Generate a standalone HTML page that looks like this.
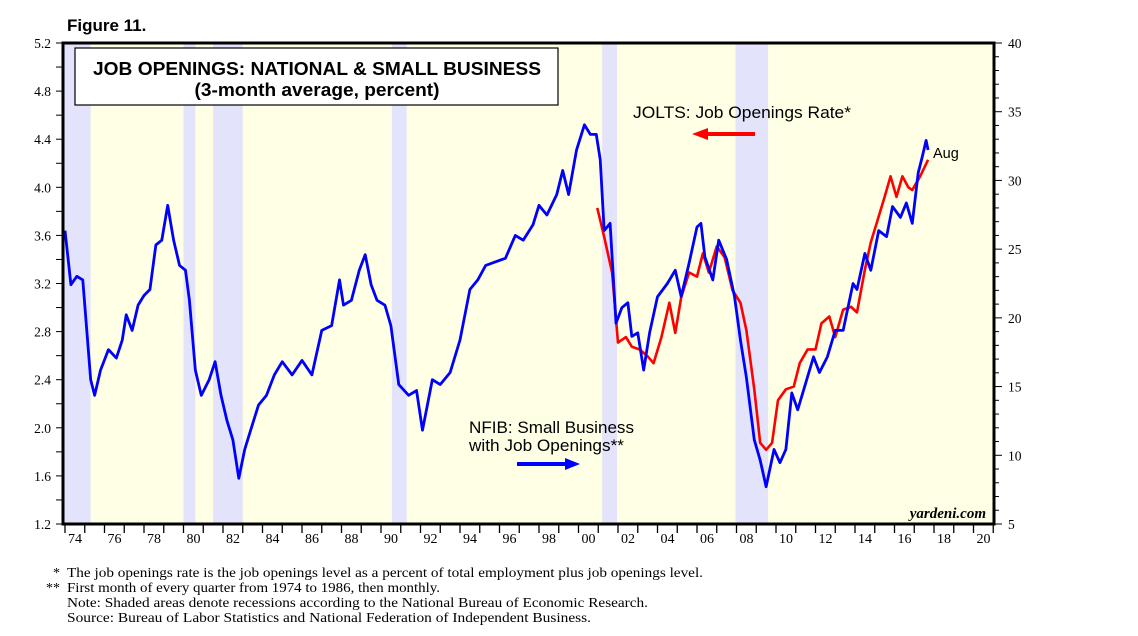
<!DOCTYPE html>
<html><head><meta charset="utf-8"><style>
body{margin:0;background:#fff;}
svg{display:block;font-family:"Liberation Serif",serif;}
</style></head><body>
<svg id="chart" width="1138" height="636" viewBox="0 0 1138 636">
<text x="67" y="31" font-family="Liberation Sans" font-weight="bold" font-size="17">Figure 11.</text>
<rect x="63" y="43" width="931" height="481" fill="#ffffe6"/>
<g id="rec"></g>
<g id="grid"></g>
<g id="series"></g>
<rect x="63" y="43" width="931" height="481" fill="none" stroke="#000" stroke-width="3"/>
<rect x="75" y="48" width="483" height="57" fill="#fff" stroke="#000" stroke-width="1.2"/>
<text x="317" y="75" text-anchor="middle" font-family="Liberation Sans" font-weight="bold" font-size="18.5" textLength="448" lengthAdjust="spacingAndGlyphs">JOB OPENINGS: NATIONAL &amp; SMALL BUSINESS</text>
<text x="317" y="96" text-anchor="middle" font-family="Liberation Sans" font-weight="bold" font-size="18" textLength="245" lengthAdjust="spacingAndGlyphs">(3-month average, percent)</text>
<text x="633" y="118" font-family="Liberation Sans" font-size="17" textLength="218" lengthAdjust="spacingAndGlyphs">JOLTS: Job Openings Rate*</text>
<line x1="755" y1="134" x2="705" y2="134" stroke="#f00" stroke-width="4"/>
<polygon points="692,134 708,128 708,140" fill="#f00"/>
<text x="469" y="433" font-family="Liberation Sans" font-size="16.5" textLength="165" lengthAdjust="spacingAndGlyphs">NFIB: Small Business</text>
<text x="469" y="451" font-family="Liberation Sans" font-size="16.5" textLength="155" lengthAdjust="spacingAndGlyphs">with Job Openings**</text>
<line x1="517" y1="464" x2="568" y2="464" stroke="#00f" stroke-width="4"/>
<polygon points="580,464 565,458 565,470" fill="#00f"/>
<text x="933" y="158" font-family="Liberation Sans" font-size="14.5">Aug</text>
<text x="986" y="518" text-anchor="end" font-style="italic" font-weight="bold" font-size="15">yardeni.com</text>
<g font-size="14">
<text x="60" y="577" text-anchor="end">*</text>
<text x="67" y="577" textLength="636" lengthAdjust="spacingAndGlyphs">The job openings rate is the job openings level as a percent of total employment plus job openings level.</text>
<text x="60" y="592" text-anchor="end">**</text>
<text x="67" y="592" textLength="373" lengthAdjust="spacingAndGlyphs">First month of every quarter from 1974 to 1986, then monthly.</text>
<text x="67" y="607" textLength="581" lengthAdjust="spacingAndGlyphs">Note: Shaded areas denote recessions according to the National Bureau of Economic Research.</text>
<text x="67" y="622" textLength="524" lengthAdjust="spacingAndGlyphs">Source:  Bureau of Labor Statistics and National Federation of Independent Business.</text>
</g>
</svg>
<script>
const recessions=[[1973.85,1975.3],[1980.0,1980.6],[1981.5,1983.0],[1990.55,1991.3],[2001.2,2001.95],[2007.95,2009.6]];
const leftTicks=[1.2,1.6,2.0,2.4,2.8,3.2,3.6,4.0,4.4,4.8,5.2];
const rightTicks=[5,10,15,20,25,30,35,40];
const yearLabels=["74","76","78","80","82","84","86","88","90","92","94","96","98","00","02","04","06","08","10","12","14","16","18","20"];
const nfibYears=[1974.0,1974.3,1974.6,1974.9,1975.3,1975.5,1975.8,1976.2,1976.6,1976.9,1977.1,1977.4,1977.7,1978.0,1978.3,1978.6,1978.9,1979.2,1979.5,1979.8,1980.1,1980.3,1980.6,1980.9,1981.3,1981.6,1981.9,1982.2,1982.5,1982.8,1983.1,1983.4,1983.8,1984.2,1984.6,1985.0,1985.5,1986.0,1986.5,1987.0,1987.5,1987.9,1988.1,1988.5,1988.9,1989.2,1989.5,1989.8,1990.2,1990.5,1990.9,1991.4,1991.8,1992.1,1992.6,1993.0,1993.5,1994.0,1994.5,1994.9,1995.3,1995.8,1996.3,1996.8,1997.2,1997.7,1998.0,1998.4,1998.9,1999.2,1999.5,1999.9,2000.3,2000.6,2000.9,2001.1,2001.3,2001.6,2001.9,2002.2,2002.5,2002.7,2003.0,2003.3,2003.6,2004.0,2004.5,2004.9,2005.2,2005.6,2006.0,2006.2,2006.4,2006.8,2007.1,2007.5,2007.9,2008.2,2008.5,2008.9,2009.2,2009.5,2009.9,2010.2,2010.5,2010.8,2011.1,2011.5,2011.9,2012.2,2012.6,2013.0,2013.4,2013.9,2014.1,2014.5,2014.8,2015.2,2015.6,2015.9,2016.3,2016.6,2016.9,2017.2,2017.4,2017.6,2017.7];
const nfibValues=[3.64,3.19,3.26,3.23,2.40,2.27,2.48,2.65,2.58,2.73,2.94,2.81,3.02,3.10,3.15,3.52,3.56,3.85,3.56,3.35,3.31,3.06,2.48,2.27,2.40,2.55,2.27,2.06,1.90,1.58,1.82,1.98,2.19,2.27,2.44,2.55,2.44,2.56,2.44,2.81,2.85,3.23,3.02,3.06,3.31,3.44,3.19,3.06,3.02,2.85,2.36,2.27,2.31,1.98,2.40,2.36,2.46,2.73,3.15,3.23,3.35,3.38,3.41,3.60,3.56,3.69,3.85,3.77,3.94,4.14,3.94,4.31,4.52,4.44,4.44,4.23,3.64,3.70,2.87,3.00,3.04,2.76,2.79,2.48,2.79,3.09,3.20,3.31,3.09,3.37,3.67,3.70,3.42,3.23,3.56,3.40,3.09,2.73,2.42,1.90,1.73,1.51,1.82,1.71,1.82,2.29,2.15,2.37,2.59,2.46,2.59,2.81,2.81,3.20,3.15,3.45,3.31,3.64,3.59,3.84,3.75,3.87,3.70,4.12,4.25,4.39,4.31];
const joltsYears=[2000.95,2001.3,2001.7,2002.0,2002.4,2002.7,2003.1,2003.5,2003.8,2004.2,2004.6,2004.9,2005.2,2005.6,2006.0,2006.3,2006.6,2007.0,2007.4,2007.8,2008.2,2008.5,2008.9,2009.2,2009.5,2009.8,2010.1,2010.5,2010.9,2011.2,2011.6,2012.0,2012.3,2012.7,2013.0,2013.4,2013.8,2014.1,2014.5,2014.8,2015.1,2015.5,2015.8,2016.1,2016.4,2016.7,2016.9,2017.3,2017.7];
const joltsValues=[28.0,25.9,23.3,18.2,18.6,17.9,17.7,17.2,16.7,18.6,21.1,18.9,21.5,23.3,23.0,24.7,23.3,25.2,24.4,22.0,21.1,19.1,14.8,10.9,10.4,10.9,14.0,14.8,15.0,16.7,17.7,17.7,19.6,20.1,18.6,20.6,20.8,20.4,23.5,25.5,26.9,28.8,30.3,28.8,30.3,29.5,29.3,30.3,31.5];

const NS='http://www.w3.org/2000/svg';
const X0=63,X1=994,Y0=43,Y1=524;
const xS=y=>65+(y-1974)*19.75;
const yL=v=>Y1-(v-1.2)/(5.2-1.2)*(Y1-Y0);
const yR=v=>Y1-(v-5)/(40-5)*(Y1-Y0);
function mk(tag,attrs,parent){const e=document.createElementNS(NS,tag);for(const k in attrs)e.setAttribute(k,attrs[k]);parent.appendChild(e);return e;}
const rec=document.getElementById('rec');
recessions.forEach(r=>{const a=Math.max(X0,xS(r[0])),b=xS(r[1]);
 const e=mk('rect',{x:a,y:Y0,width:b-a,height:Y1-Y0,fill:'#e3e3fb'},rec);
 
 });
const g=document.getElementById('grid');
for(let v=1.2;v<=5.21;v+=0.2){const y=yL(v);const e=mk('line',{x1:X0-7,x2:X0,y1:y,y2:y,stroke:'#000','stroke-width':1},g);
 
 }
leftTicks.forEach(v=>{const t=mk('text',{x:X0-12,y:yL(v)+5,'text-anchor':'end','font-size':13.5},g);t.textContent=v.toFixed(1);
 
 });
for(let v=5;v<=40;v+=1){const y=yR(v);const e=mk('line',{x1:X1,x2:X1+(v%5===0?8:5),y1:y,y2:y,stroke:'#000','stroke-width':1},g);
 
 }
rightTicks.forEach(v=>{const t=mk('text',{x:X1+14,y:yR(v)+5,'font-size':13.5},g);t.textContent=v;
 
 });
for(let yr=1974;yr<=2021;yr++){const x=xS(yr);const e=mk('line',{x1:x,x2:x,y1:Y1,y2:Y1+9,stroke:'#000','stroke-width':1.3},g);
 
 }
yearLabels.forEach((l,i)=>{const t=mk('text',{x:xS(1974+2*i)+10,y:Y1+19,'text-anchor':'middle','font-size':14},g);t.textContent=l;
 
 });
const s=document.getElementById('series');
const red=mk('polyline',{points:joltsYears.map((yr,i)=>xS(yr)+','+yR(joltsValues[i])).join(' '),fill:'none',stroke:'#f00','stroke-width':2.6,'stroke-linejoin':'round'},s);


const blue=mk('polyline',{points:nfibYears.map((yr,i)=>xS(yr)+','+yL(nfibValues[i])).join(' '),fill:'none',stroke:'#00f','stroke-width':2.8,'stroke-linejoin':'round'},s);


</script>
</body></html>
